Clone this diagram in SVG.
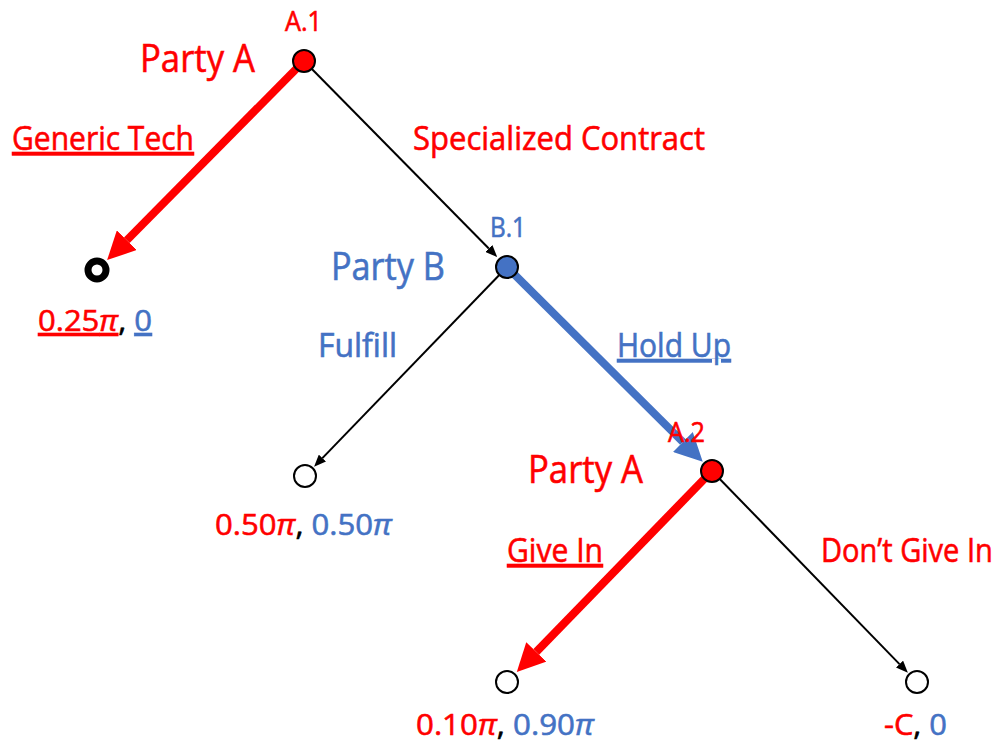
<svg xmlns="http://www.w3.org/2000/svg" width="1007" height="748" viewBox="0 0 1007 748">
  <style>
    text { font-family: "Open Sans", "Liberation Sans", sans-serif; stroke-width: 0.6; }
    .red { fill: #FF0000; stroke: #FF0000; }
    .blue { fill: #4472C4; stroke: #4472C4; }
    .blk { fill: #000000; stroke: #000000; }
    .id { font-size: 27px; }
    .party { font-size: 38px; }
    .lbl { font-size: 33px; }
    .pay { font-size: 30px; }
    .u { text-decoration: underline; }
    .pi { font-style: italic; }
    .node { stroke: #000; stroke-width: 2; }
    .leaf { fill: #fff; stroke: #000; stroke-width: 2; }
  </style>
  <defs>
    <marker id="headRed" viewBox="0 -1.75 3.5 3.5" refX="0" refY="0" markerWidth="3.5" markerHeight="3.5" markerUnits="strokeWidth" orient="auto">
      <path d="M0,-1.75 L3.5,0 L0,1.75 Z" fill="#FF0000"/>
    </marker>
    <marker id="headBlue" viewBox="0 -1.75 3.5 3.5" refX="0" refY="0" markerWidth="3.5" markerHeight="3.5" markerUnits="strokeWidth" orient="auto">
      <path d="M0,-1.75 L3.5,0 L0,1.75 Z" fill="#4472C4"/>
    </marker>
    <marker id="headBlack" viewBox="0 -5 12 10" refX="0" refY="0" markerWidth="12" markerHeight="10" markerUnits="userSpaceOnUse" orient="auto">
      <path d="M0,-5 L12,0 L0,5 Z" fill="#000"/>
    </marker>
  </defs>

  <!-- branches -->
  <g id="connectors" fill="none">
    <line x1="304" y1="61" x2="126.8" y2="240.2" stroke="#FF0000" stroke-width="8" marker-end="url(#headRed)"/>
    <line x1="304" y1="61" x2="488.8" y2="248.5" stroke="#000" stroke-width="2" marker-end="url(#headBlack)"/>
    <line x1="507" y1="267" x2="682.9" y2="442" stroke="#4472C4" stroke-width="8" marker-end="url(#headBlue)"/>
    <line x1="507" y1="267" x2="322.4" y2="458.1" stroke="#000" stroke-width="2" marker-end="url(#headBlack)"/>
    <line x1="712" y1="471" x2="536.3" y2="651.9" stroke="#FF0000" stroke-width="8" marker-end="url(#headRed)"/>
    <line x1="712" y1="471" x2="899.5" y2="664.1" stroke="#000" stroke-width="2" marker-end="url(#headBlack)"/>
  </g>

  <!-- decision A.1 -->
  <g id="node-A1">
    <circle class="node" cx="304" cy="61" r="11" fill="#FF0000"/>
    <text class="id red" x="285" y="31" textLength="37" lengthAdjust="spacingAndGlyphs">A.1</text>
    <text class="party red" x="140" y="72" textLength="115" lengthAdjust="spacingAndGlyphs">Party A</text>
  </g>

  <g id="label-generic">
    <text class="lbl red u" x="12" y="150" textLength="182" lengthAdjust="spacingAndGlyphs">Generic Tech</text>
  </g>
  <g id="label-specialized">
    <text class="lbl red" x="413" y="150" textLength="292" lengthAdjust="spacingAndGlyphs">Specialized Contract</text>
  </g>

  <!-- outcome of Generic Tech -->
  <g id="leaf-generic">
    <circle cx="97" cy="270" r="9" fill="#fff" stroke="#000" stroke-width="7"/>
    <text class="pay" x="38" y="331" textLength="114" lengthAdjust="spacingAndGlyphs"><tspan class="red u">0.25<tspan class="pi">π</tspan></tspan><tspan class="blk">, </tspan><tspan class="blue u">0</tspan></text>
  </g>

  <!-- decision B.1 -->
  <g id="node-B1">
    <circle class="node" cx="507" cy="267" r="11" fill="#4472C4"/>
    <text class="id blue" x="490" y="237" textLength="36" lengthAdjust="spacingAndGlyphs">B.1</text>
    <text class="party blue" x="331" y="280" textLength="114" lengthAdjust="spacingAndGlyphs">Party B</text>
  </g>

  <g id="label-fulfill">
    <text class="lbl blue" x="318" y="357" textLength="79" lengthAdjust="spacingAndGlyphs">Fulfill</text>
  </g>
  <g id="label-holdup">
    <text class="lbl blue u" x="617" y="357" textLength="114" lengthAdjust="spacingAndGlyphs">Hold Up</text>
  </g>

  <!-- outcome of Fulfill -->
  <g id="leaf-fulfill">
    <circle class="leaf" cx="305" cy="476" r="11"/>
    <text class="pay" x="215" y="535" textLength="177" lengthAdjust="spacingAndGlyphs"><tspan class="red">0.50<tspan class="pi">π</tspan></tspan><tspan class="blk">, </tspan><tspan class="blue">0.50<tspan class="pi">π</tspan></tspan></text>
  </g>

  <!-- decision A.2 -->
  <g id="node-A2">
    <circle class="node" cx="712" cy="471" r="11" fill="#FF0000"/>
    <text class="id red" x="668" y="442" textLength="37" lengthAdjust="spacingAndGlyphs">A.2</text>
    <text class="party red" x="528" y="483" textLength="115" lengthAdjust="spacingAndGlyphs">Party A</text>
  </g>

  <g id="label-givein">
    <text class="lbl red u" x="507" y="562" textLength="96" lengthAdjust="spacingAndGlyphs">Give In</text>
  </g>
  <g id="label-dontgivein">
    <!-- horizontally condensed so the label stays inside the right edge -->
    <text class="lbl red" transform="translate(821,562) scale(0.88,1)" x="0" y="0">Don’t Give In</text>
  </g>

  <!-- outcomes of A.2 -->
  <g id="leaf-givein">
    <circle class="leaf" cx="507" cy="682" r="11"/>
    <text class="pay" x="416" y="735" textLength="178" lengthAdjust="spacingAndGlyphs"><tspan class="red">0.10<tspan class="pi">π</tspan></tspan><tspan class="blk">, </tspan><tspan class="blue">0.90<tspan class="pi">π</tspan></tspan></text>
  </g>
  <g id="leaf-dontgivein">
    <circle class="leaf" cx="917" cy="682" r="11"/>
    <text class="pay" x="884" y="735" textLength="63" lengthAdjust="spacingAndGlyphs"><tspan class="red">-C</tspan><tspan class="blk">, </tspan><tspan class="blue">0</tspan></text>
  </g>
</svg>
